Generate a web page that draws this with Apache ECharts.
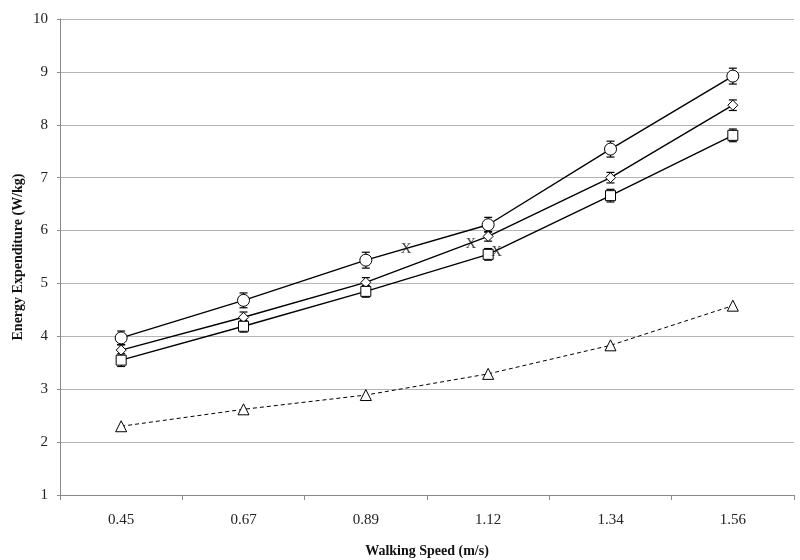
<!DOCTYPE html>
<html>
<head>
<meta charset="utf-8">
<script src="https://cdn.jsdelivr.net/npm/echarts@6/dist/echarts.min.js"></script>
<style>html,body{margin:0;padding:0;background:#fff;}#chart{width:800px;height:560px;}</style>
</head>
<body>
<div id="chart"></div>
<script>
const categories = ['0.45', '0.67', '0.89', '1.12', '1.34', '1.56'];
const yTicks = [1, 2, 3, 4, 5, 6, 7, 8, 9, 10];
const circleVals = [3.97, 4.68, 5.44, 6.11, 7.54, 8.92];
const circleErr = [0.13, 0.14, 0.15, 0.14, 0.15, 0.15];
const diamondVals = [3.74, 4.36, 5.02, 5.89, 7.00, 8.37];
const diamondErr = [0.10, 0.10, 0.09, 0.09, 0.10, 0.10];
const squareVals = [3.55, 4.19, 4.85, 5.55, 6.66, 7.80];
const squareErr = [0.12, 0.11, 0.11, 0.11, 0.12, 0.12];
const triangleVals = [2.30, 2.62, 2.89, 3.29, 3.83, 4.58];
// transition markers "X": [category position, value]
const transitionPts = [[2.33, 5.65], [2.86, 5.74], [3.07, 5.585]];

const FONT = 'Liberation Serif';

function errData(vals, errs) {
  return vals.map((v, i) => [i, v - errs[i], v + errs[i]]);
}

function errorSeries(vals, errs) {
  return {
    type: 'custom',
    xAxisIndex: 0,
    z: 1,
    silent: true,
    data: errData(vals, errs),
    renderItem: function (params, api) {
      const lo = api.coord([api.value(0), api.value(1)]);
      const hi = api.coord([api.value(0), api.value(2)]);
      const w = 4;
      const style = { stroke: '#000', lineWidth: 1.2 };
      return {
        type: 'group',
        children: [
          { type: 'line', shape: { x1: lo[0], y1: lo[1], x2: hi[0], y2: hi[1] }, style: style },
          { type: 'line', shape: { x1: lo[0] - w, y1: lo[1], x2: lo[0] + w, y2: lo[1] }, style: style },
          { type: 'line', shape: { x1: hi[0] - w, y1: hi[1], x2: hi[0] + w, y2: hi[1] }, style: style }
        ]
      };
    }
  };
}

function lineSeries(vals, symbol, size, dashed) {
  return {
    type: 'line',
    xAxisIndex: 0,
    z: 3,
    data: vals,
    symbol: symbol,
    symbolSize: size,
    showAllSymbol: true,
    lineStyle: { color: '#000', width: dashed ? 1 : 1.4, type: dashed ? [4, 3] : 'solid' },
    itemStyle: { color: '#fff', borderColor: '#000', borderWidth: 1 },
    emphasis: { disabled: true }
  };
}

const chart = echarts.init(document.getElementById('chart'), null, { renderer: 'canvas' });
chart.setOption({
  animation: false,
  backgroundColor: '#fff',
  grid: { left: 60, right: 6, top: 19, bottom: 65, containLabel: false, outerBoundsMode: 'none' },
  xAxis: [
    {
      type: 'category',
      data: categories,
      boundaryGap: true,
      name: 'Walking Speed (m/s)',
      nameLocation: 'middle',
      nameGap: 49,
      nameTextStyle: { fontFamily: FONT, fontWeight: 'bold', fontSize: 14, color: '#111' },
      axisLine: { onZero: false, lineStyle: { color: '#8a8a8a', width: 1 } },
      axisTick: { show: true, length: 5, lineStyle: { color: '#8a8a8a' } },
      axisLabel: { fontFamily: FONT, fontSize: 15, color: '#222', margin: 18 },
      splitLine: { show: false }
    },
    {
      type: 'value',
      min: -0.5,
      max: 5.5,
      show: false
    }
  ],
  yAxis: {
    type: 'value',
    min: yTicks[0],
    max: yTicks[yTicks.length - 1],
    interval: 1,
    name: 'Energy Expenditure (W/kg)',
    nameLocation: 'middle',
    nameGap: 35,
    nameMoveOverlap: false,
    nameTextStyle: { fontFamily: FONT, fontWeight: 'bold', fontSize: 14, color: '#111' },
    axisLine: { show: true, onZero: false, lineStyle: { color: '#8a8a8a', width: 1 } },
    axisTick: { show: true, length: 3, lineStyle: { color: '#8a8a8a' } },
    axisLabel: { fontFamily: FONT, fontSize: 15, color: '#222', margin: 12 },
    splitLine: { show: true, lineStyle: { color: '#b4b4b4', width: 1 } }
  },
  series: [
    errorSeries(circleVals, circleErr),
    errorSeries(diamondVals, diamondErr),
    errorSeries(squareVals, squareErr),
    lineSeries(circleVals, 'circle', 12, false),
    lineSeries(diamondVals, 'diamond', 10, false),
    lineSeries(squareVals, 'rect', 10, false),
    lineSeries(triangleVals, 'triangle', 11, true),
    {
      type: 'scatter',
      xAxisIndex: 1,
      z: 5,
      data: transitionPts,
      symbolSize: 1,
      itemStyle: { color: 'rgba(0,0,0,0)' },
      label: {
        show: true,
        position: 'inside',
        formatter: 'X',
        fontFamily: FONT,
        fontSize: 15,
        color: '#111'
      },
      emphasis: { disabled: true }
    }
  ]
});
</script>
</body>
</html>
